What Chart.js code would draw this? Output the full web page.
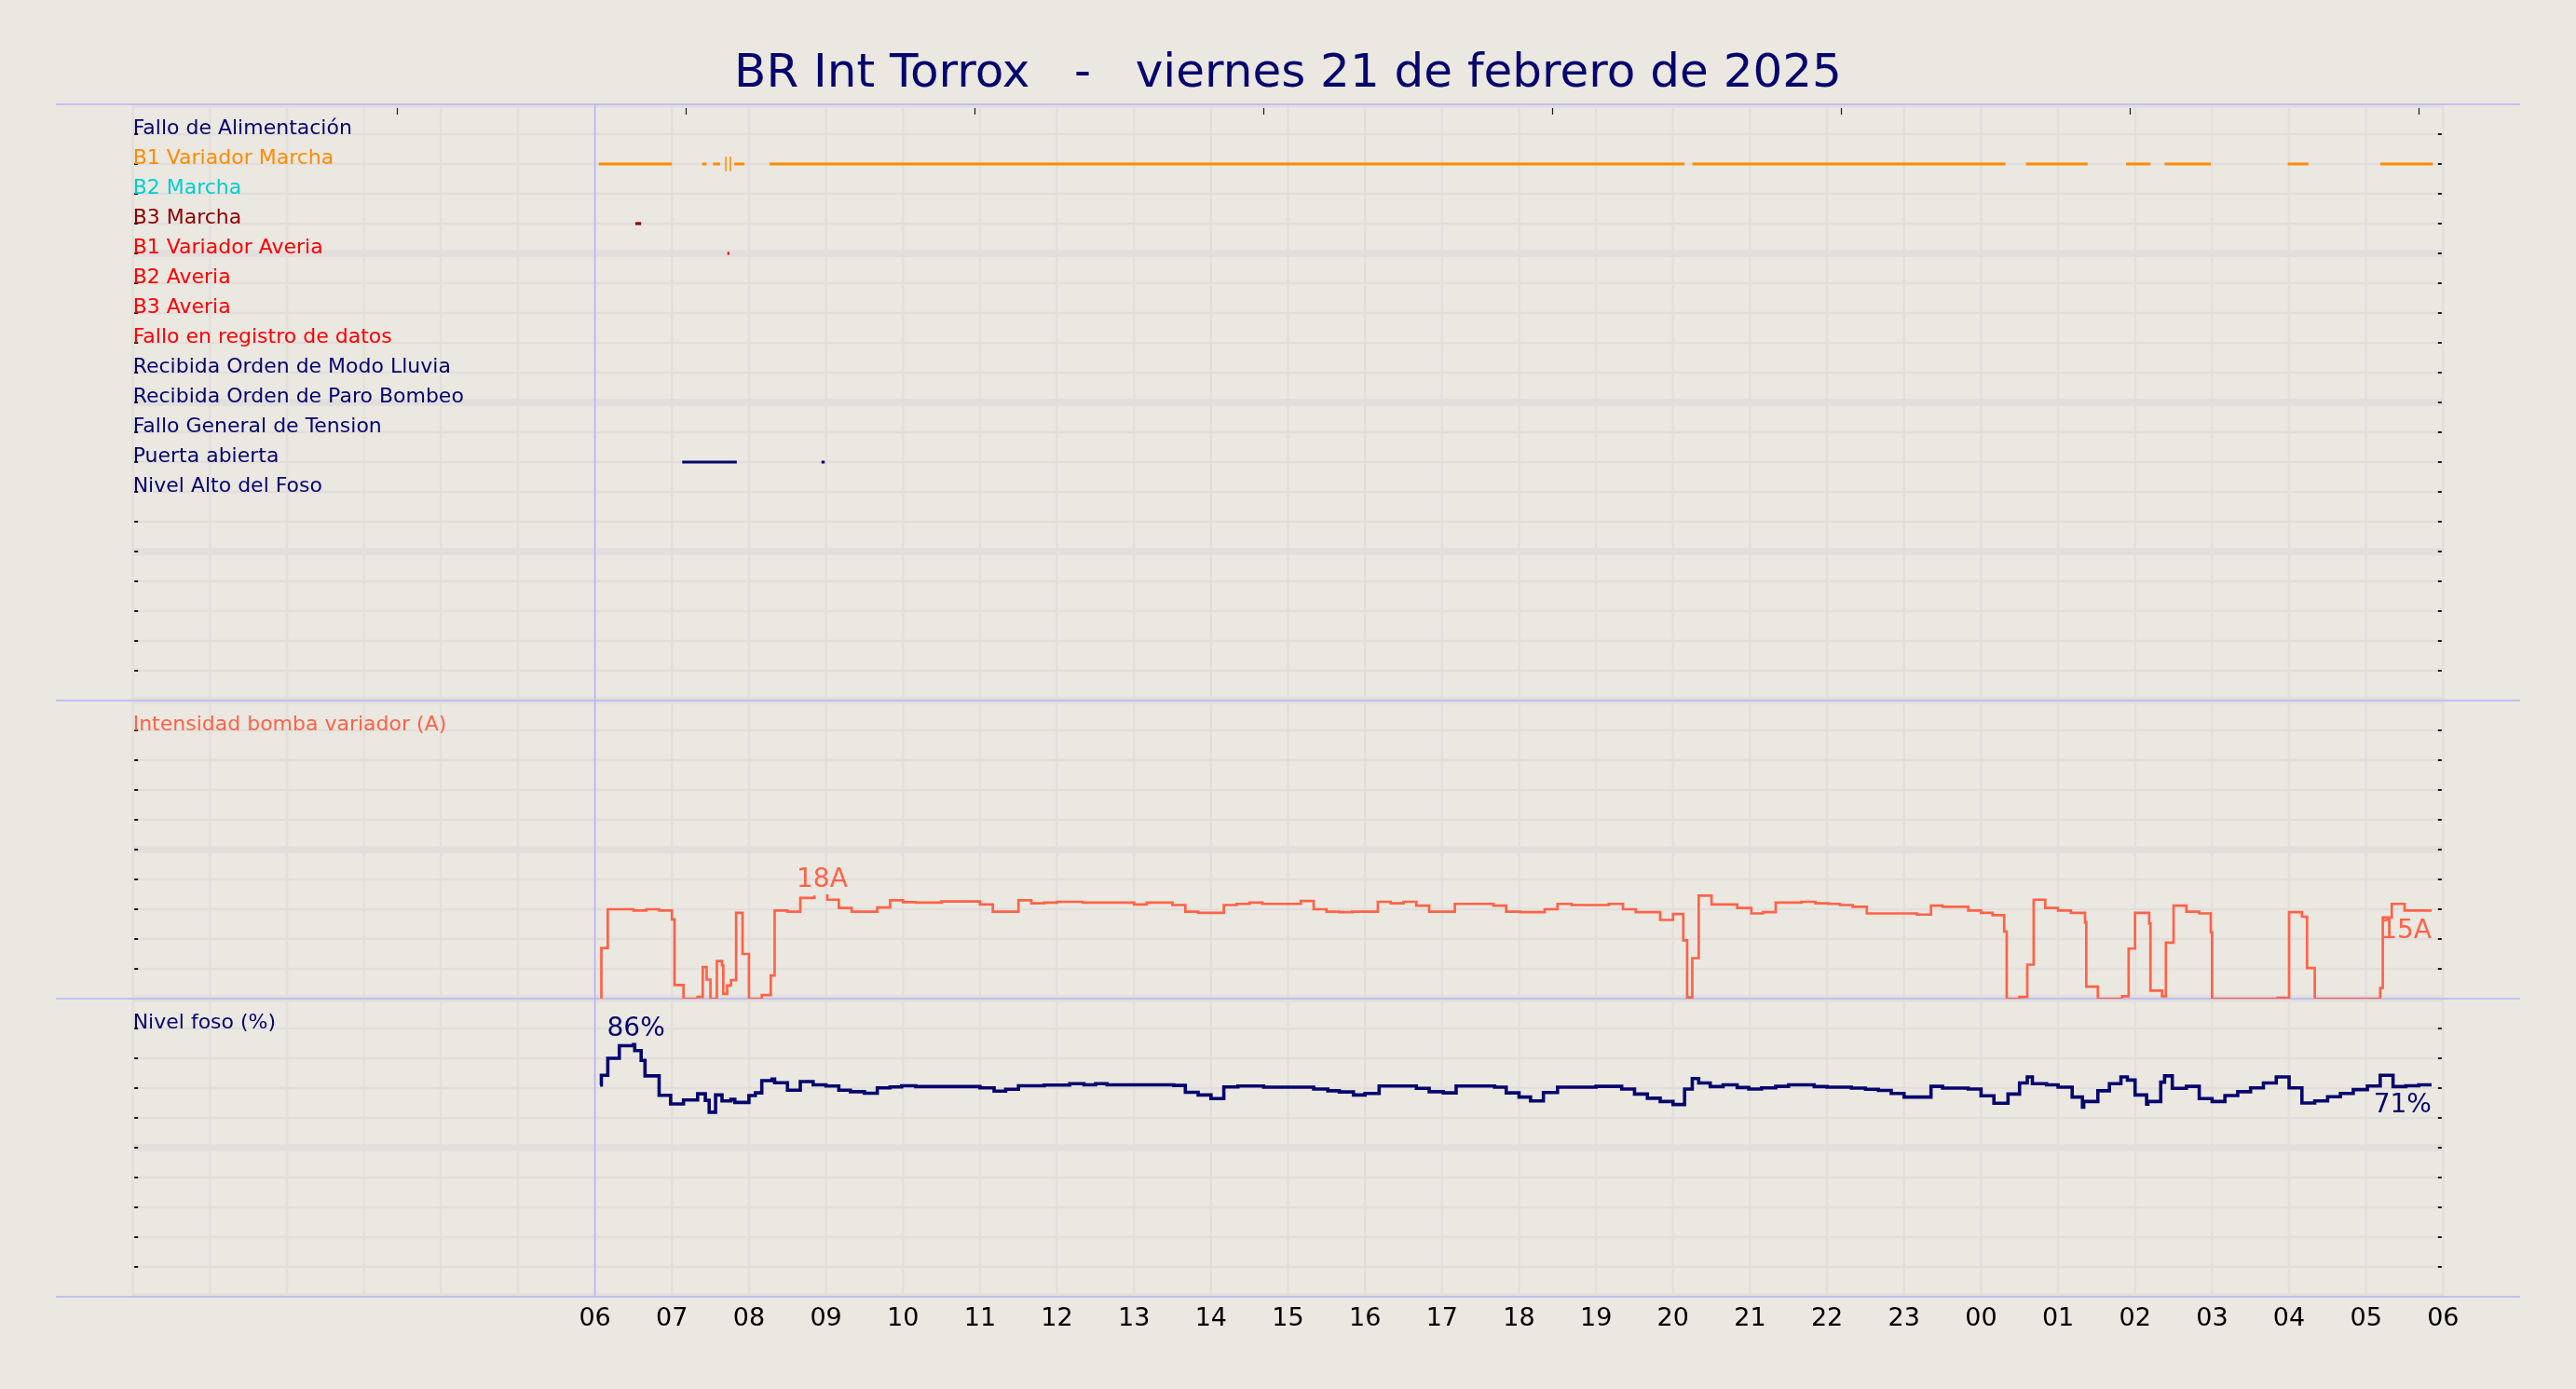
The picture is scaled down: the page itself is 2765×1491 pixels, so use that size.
<!DOCTYPE html>
<html>
<head>
<meta charset="utf-8">
<title>BR Int Torrox</title>
<script src="https://cdn.jsdelivr.net/npm/chart.js@4.4.1/dist/chart.umd.min.js"></script>
<style>
html, body { margin:0; padding:0; background:#ebe7e1; overflow:hidden; }
canvas { display:block; }
</style>
</head>
<body>
<canvas id="chart" width="2765" height="1491"></canvas>
<script>
// ================= DATA =================
const chartTitle = 'BR Int Torrox   -   viernes 21 de febrero de 2025';

// x axis (minutes since 00:00 of 21/02/2025)
const xTickLabels = ['06','07','08','09','10','11','12','13','14','15','16','17','18','19','20','21','22','23','00','01','02','03','04','05','06'];
const firstTickMinute = 360;
const gridStartMinute = 0;
const gridEndMinute = 1800;
const axisMinMinute = -60;
const axisMaxMinute = 1860;
const topTickMinutes = [206, 431, 656, 881, 1106, 1331, 1556, 1781];

// digital signals (top panel), one row each
const signalLabels = ['Fallo de Alimentación','B1 Variador Marcha','B2 Marcha','B3 Marcha','B1 Variador Averia','B2 Averia','B3 Averia','Fallo en registro de datos','Recibida Orden de Modo Lluvia','Recibida Orden de Paro Bombeo','Fallo General de Tension','Puerta abierta','Nivel Alto del Foso'];
const signalColors = ['#05056e','#ff8c00','#00ced1','#8b0000','#ff0000','#ff0000','#ff0000','#ff0000','#05056e','#05056e','#05056e','#05056e','#05056e'];

// active intervals [start, end] in minutes
const sigFalloAlimentacion = [];
const sigB1VariadorMarcha = [[363,420],[443.5,447],[452,457.5],[468.5,476.5],[496,1209],[1215,1459],[1475,1523],[1553,1572],[1583,1619],[1679,1695],[1751,1792]];
const sigB1VariadorMarchaBlips = [462, 465.5];
const sigB2Marcha = [];
const sigB3Marcha = [[391.5,396]];
const sigB1VariadorAveria = [[463.2,464.8]];
const sigB2Averia = [];
const sigB3Averia = [];
const sigFalloRegistro = [];
const sigModoLluvia = [];
const sigParoBombeo = [];
const sigFalloTension = [];
const sigPuertaAbierta = [[428,470.5],[536.5,539]];
const sigNivelAlto = [];
const signalIntervals = [sigFalloAlimentacion, sigB1VariadorMarcha, sigB2Marcha, sigB3Marcha, sigB1VariadorAveria, sigB2Averia, sigB3Averia, sigFalloRegistro, sigModoLluvia, sigParoBombeo, sigFalloTension, sigPuertaAbierta, sigNivelAlto];

// Intensidad bomba variador (A) - stepped samples
const intensityLabel = 'Intensidad bomba variador (A)';
const intensidadMin = [364,365,370,390,400,410,420,422,429,440,444,447,450,455,459,460,463,466,470,475,480,490,497,500,510,520,531,532,540,541,550,560,580,590,600,610,630,660,670,690,700,710,720,740,780,790,810,820,830,850,860,870,880,910,920,930,940,950,970,980,990,1000,1010,1030,1060,1070,1081,1100,1110,1121,1150,1161,1171,1190,1200,1208,1211,1215,1220,1230,1250,1261,1270,1280,1300,1311,1321,1330,1340,1351,1390,1401,1410,1430,1440,1449,1458,1460,1470,1476,1481,1490,1500,1510,1521,1522,1531,1550,1555,1560,1571,1572,1581,1584,1590,1600,1610,1619,1620,1671,1680,1690,1694,1700,1751,1753,1760,1770,1791];
const intensidadA = [0,8.5,15.0,14.8,15.0,14.8,13.3,2.3,0,0.3,5.3,3.2,0,6.3,5.6,0.8,2.2,3.1,14.4,7.5,0,0.6,3.9,14.8,14.6,16.9,17.3,null,17.3,16.6,15.2,14.6,15.3,16.5,16.2,16.1,16.3,15.8,14.6,16.5,16.0,16.1,16.25,16.1,15.8,16.1,15.7,14.6,14.4,15.7,15.9,16.1,15.9,16.4,15.0,14.6,14.5,14.6,16.25,16.0,16.25,15.6,14.6,15.9,15.6,14.6,14.5,15.0,15.9,15.7,15.9,15.0,14.5,13.2,14.2,9.8,0.2,6.8,17.3,15.8,15.2,14.3,14.5,16.1,16.25,16.0,15.9,15.7,15.4,14.3,14.1,15.6,15.4,14.8,14.4,14.0,11.25,0,0.3,5.7,16.6,15.2,14.8,14.4,12.8,2.0,0,0.4,8.4,14.4,12.6,1.35,0.4,9.4,15.6,14.6,14.3,11.1,0,0.15,14.5,13.75,5.15,0,1.8,13.6,15.9,14.8,14.8];

// Nivel foso (%) - stepped samples
const levelLabel = 'Nivel foso (%)';
const nivelMin = [364,365,370,379,390,391,396,399,410,419,429,440,446,449,454,459,466,469,480,485,490,498,500,510,520,530,540,550,559,570,580,590,599,610,660,671,680,690,710,730,741,750,759,811,820,830,840,850,861,881,920,931,940,951,960,971,1000,1010,1021,1031,1061,1070,1080,1089,1099,1110,1140,1160,1170,1180,1190,1200,1209,1215,1220,1229,1239,1250,1259,1269,1280,1290,1310,1320,1339,1350,1360,1370,1380,1401,1410,1430,1440,1450,1461,1470,1476,1480,1491,1500,1511,1519,1520,1531,1540,1549,1554,1560,1569,1570,1580,1583,1589,1600,1610,1620,1630,1640,1650,1660,1670,1680,1690,1700,1710,1720,1730,1741,1751,1761,1771,1781,1791];
const nivelPct = [71.0,74.3,80.0,84.2,84.6,82.6,79.3,74.1,67.6,64.7,66.0,68.1,65.9,61.9,67.7,65.7,66.2,65.2,67.5,68.4,72.5,73.0,71.8,69.3,72.2,71.1,70.7,69.3,68.8,68.3,70.1,70.4,70.8,70.5,70.1,69.0,69.6,70.8,71.0,71.5,71.1,71.5,71.1,70.9,68.6,67.7,66.5,70.4,70.7,70.3,69.7,69.1,68.7,67.7,68.2,70.7,69.9,68.8,68.4,70.7,70.3,68.4,67.0,65.7,68.5,70.3,70.6,69.7,68.0,66.6,65.5,64.5,69.7,73.2,71.7,70.5,71.1,70.2,69.7,70.1,70.6,71.1,70.5,70.3,70.0,69.6,69.2,68.2,67.0,70.6,70.0,69.7,67.4,64.9,68.0,71.7,73.75,71.5,71.1,70.3,67.0,63.6,65.5,69.1,71.5,73.75,72.7,67.7,64.6,65.5,72.0,74.1,69.9,70.6,66.5,65.5,67.5,68.8,70.1,71.7,73.75,70.1,65.0,65.7,67.1,68.2,69.5,70.7,74.3,70.5,70.8,71.1,71.1];

// value annotations (max / last)
const annotTexts   = ['18A', '15A', '86%', '71%'];
const annotMinutes = [537, 1791, 392, 1791];
const annotValues  = [18, 14.8, 86, 71.1];
const annotAxes    = ['yI', 'yI', 'yN', 'yN'];
const annotKinds   = ['max', 'last', 'max', 'last'];

// ================= STYLE =================
const FONT = "'DejaVu Sans', 'Liberation Sans', sans-serif";
const NAVY = '#05056e';
const TOMATO = '#ff6347';
const BG = '#ebe7e1';
const GRID_H = '#e2dedc';
const GRID_V = '#e3dfdc';
const FRAME = '#b4b4f4';

// ================= DATASETS =================
function intervalsToPoints(intervals, row) {
  const pts = [];
  intervals.forEach(([s, e]) => { pts.push({x: s, y: row}, {x: e, y: row}, {x: e, y: null}); });
  return pts;
}
const datasets = [];
signalIntervals.forEach((iv, i) => {
  datasets.push({
    label: signalLabels[i], yAxisID: 'ySig', data: intervalsToPoints(iv, i + 1),
    borderColor: signalColors[i], borderWidth: 3.2, borderCapStyle: 'butt',
    pointRadius: 0, spanGaps: false, fill: false
  });
});
datasets.push({
  label: 'B1 Variador Marcha (pulsos)', yAxisID: 'ySig', showLine: false,
  data: sigB1VariadorMarchaBlips.map(m => ({x: m, y: 2})),
  pointStyle: 'line', rotation: 90, pointRadius: 8, borderWidth: 1.5,
  borderColor: signalColors[1], backgroundColor: signalColors[1]
});
datasets.push({
  label: intensityLabel, yAxisID: 'yI',
  data: intensidadMin.map((m, i) => ({x: m, y: intensidadA[i]})),
  borderColor: TOMATO, borderWidth: 2.7, stepped: 'before', pointRadius: 0,
  spanGaps: false, fill: false, borderJoinStyle: 'miter'
});
datasets.push({
  label: levelLabel, yAxisID: 'yN',
  data: nivelMin.map((m, i) => ({x: m, y: nivelPct[i]})),
  borderColor: NAVY, borderWidth: 3.6, stepped: 'before', pointRadius: 0,
  spanGaps: false, fill: false, borderJoinStyle: 'miter'
});

// ================= DECORATION PLUGIN =================
const panelIds = ['ySig', 'yI', 'yN'];
const panelLabels = {
  ySig: signalLabels.map((l, i) => ({text: l, color: signalColors[i]})),
  yI: [{text: intensityLabel, color: TOMATO}],
  yN: [{text: levelLabel, color: NAVY}]
};

const decorPlugin = {
  id: 'decor',
  beforeDraw(chart) {
    const {ctx, width, height} = chart;
    ctx.save(); ctx.fillStyle = BG; ctx.fillRect(0, 0, width, height); ctx.restore();
  },
  beforeDatasetsDraw(chart) {
    const {ctx, chartArea: ca, scales} = chart;
    const xs = scales.x;
    const gx0 = xs.getPixelForValue(gridStartMinute);
    const gx1 = xs.getPixelForValue(gridEndMinute);
    ctx.save();
    // vertical hour grid
    ctx.strokeStyle = GRID_V; ctx.lineWidth = 2.5;
    for (let m = gridStartMinute; m <= gridEndMinute; m += 60) {
      const px = xs.getPixelForValue(m);
      ctx.beginPath(); ctx.moveTo(px, ca.top); ctx.lineTo(px, ca.bottom); ctx.stroke();
    }
    // horizontal bands per panel
    panelIds.forEach(id => {
      const s = scales[id];
      ctx.save();
      ctx.beginPath(); ctx.rect(gx0 - 2, s.top, gx1 - gx0 + 4, s.bottom - s.top); ctx.clip();
      ctx.strokeStyle = GRID_H;
      s.ticks.forEach((t, i) => {
        const py = s.getPixelForValue(t.value);
        ctx.lineWidth = (i % 5 === 0) ? 7.5 : 2.5;
        ctx.beginPath(); ctx.moveTo(gx0, py); ctx.lineTo(gx1, py); ctx.stroke();
      });
      ctx.restore();
      // inward ticks, both sides
      ctx.strokeStyle = '#1a1a1a'; ctx.lineWidth = 2;
      s.ticks.forEach(t => {
        const py = s.getPixelForValue(t.value);
        if (py <= s.top + 1 || py >= s.bottom - 1) return;
        ctx.beginPath();
        ctx.moveTo(gx0 + 1.5, py); ctx.lineTo(gx0 + 5.5, py);
        ctx.moveTo(gx1 - 5.5, py); ctx.lineTo(gx1 - 1.5, py);
        ctx.stroke();
      });
    });
    // top ticks
    const yTop = scales.ySig.top;
    ctx.strokeStyle = '#1a1a1a'; ctx.lineWidth = 1.2;
    topTickMinutes.forEach(m => {
      const px = Math.round(xs.getPixelForValue(m)) + 0.5;
      ctx.beginPath(); ctx.moveTo(px, yTop + 4); ctx.lineTo(px, yTop + 11); ctx.stroke();
    });
    // frame lines (panel borders + data start)
    ctx.strokeStyle = FRAME; ctx.lineWidth = 1.5;
    const borders = [scales.ySig.top, scales.ySig.bottom, scales.yI.bottom, scales.yN.bottom];
    borders.forEach(py => { ctx.beginPath(); ctx.moveTo(ca.left, py); ctx.lineTo(ca.right, py); ctx.stroke(); });
    const xStart = xs.getPixelForValue(firstTickMinute);
    ctx.beginPath(); ctx.moveTo(xStart, ca.top); ctx.lineTo(xStart, ca.bottom); ctx.stroke();
    // row labels (second gridline from the top onwards)
    ctx.font = '22px ' + FONT; ctx.textAlign = 'left'; ctx.textBaseline = 'alphabetic';
    panelIds.forEach(id => {
      const s = scales[id];
      const rows = s.ticks.map(t => s.getPixelForValue(t.value)).sort((a, b) => a - b);
      panelLabels[id].forEach((lab, i) => {
        ctx.fillStyle = lab.color;
        ctx.fillText(lab.text, gx0, rows[i + 1] - 0.5);
      });
    });
    ctx.restore();
  },
  afterDatasetsDraw(chart) {
    const {ctx, scales} = chart;
    ctx.save();
    ctx.font = '28px ' + FONT; ctx.textBaseline = 'alphabetic';
    annotTexts.forEach((txt, i) => {
      const px = scales.x.getPixelForValue(annotMinutes[i]);
      const py = scales[annotAxes[i]].getPixelForValue(annotValues[i]);
      ctx.fillStyle = annotAxes[i] === 'yI' ? TOMATO : NAVY;
      if (annotKinds[i] === 'max') { ctx.textAlign = 'center'; ctx.fillText(txt, px, py - 5); }
      else { ctx.textAlign = 'right'; ctx.fillText(txt, px, py + 29.5); }
    });
    ctx.restore();
  }
};

const hiddenY = (extra) => Object.assign({
  type: 'linear', position: 'left', stack: 'panels', display: true,
  grid: { display: false, drawTicks: false, tickLength: 0 }, border: { display: false }
}, extra);

new Chart(document.getElementById('chart'), {
  type: 'line',
  data: { datasets },
  options: {
    responsive: false, animation: false, devicePixelRatio: 1, events: [],
    layout: { padding: { left: 60, right: 60, top: 0, bottom: 50.6 } },
    plugins: {
      legend: { display: false }, tooltip: { enabled: false },
      title: { display: true, text: chartTitle, color: NAVY,
        font: { family: FONT, size: 50, weight: 'normal' }, padding: { top: 50, bottom: 2 } }
    },
    scales: {
      x: {
        type: 'linear', position: 'bottom', min: axisMinMinute, max: axisMaxMinute,
        grid: { display: false, drawTicks: false, tickLength: 0 }, border: { display: false },
        afterBuildTicks: s => { s.ticks = xTickLabels.map((_, i) => ({ value: firstTickMinute + i * 60 })); },
        ticks: { autoSkip: false, maxRotation: 0, minRotation: 0, padding: 8, color: '#000',
          font: { family: FONT, size: 27 }, callback: (v, i) => xTickLabels[i] }
      },
      yN: hiddenY({ stackWeight: 1, min: 0, max: 100, ticks: { display: false, stepSize: 10 } }),
      yI: hiddenY({ stackWeight: 1, min: 0, max: 50, ticks: { display: false, stepSize: 5 } }),
      ySig: hiddenY({ stackWeight: 2, min: 0, max: 20, reverse: true, ticks: { display: false, stepSize: 1 } })
    }
  },
  plugins: [decorPlugin]
});
</script>
</body>
</html>
